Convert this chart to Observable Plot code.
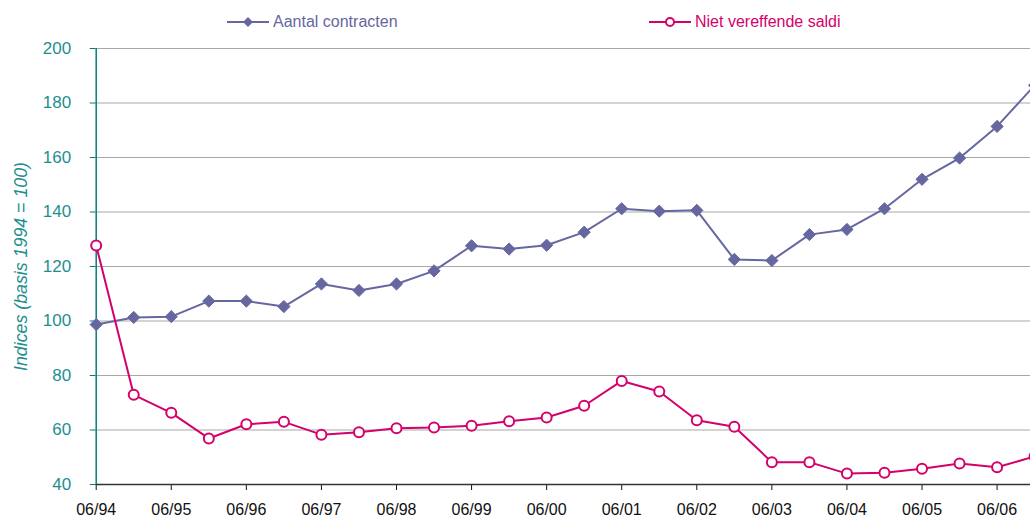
<!DOCTYPE html>
<html>
<head>
<meta charset="utf-8">
<script src="https://cdn.jsdelivr.net/npm/d3@7"></script>
<script src="https://cdn.jsdelivr.net/npm/@observablehq/plot@0.6"></script>
<style>
  html, body { margin: 0; padding: 0; background: #fff; overflow: hidden; }
  body { width: 1030px; height: 519px; font-family: "Liberation Sans", Arial, sans-serif; }
  #legend { position: relative; height: 40px; width: 1030px; }
  .leg { position: absolute; top: 11px; display: flex; align-items: center; font-size: 16px; }
  .leg svg { margin-right: 4px; }
</style>
</head>
<body>
<div id="legend"></div>
<div id="chart"></div>
<script>
const periods = ["06/94","12/94","06/95","12/95","06/96","12/96","06/97","12/97","06/98","12/98",
  "06/99","12/99","06/00","12/00","06/01","12/01","06/02","12/02","06/03","12/03",
  "06/04","12/04","06/05","12/05","06/06","12/06"];
const contracten = [98.7,101.3,101.6,107.3,107.3,105.3,113.6,111.2,113.6,118.4,
  127.6,126.4,127.8,132.6,141.2,140.3,140.6,122.6,122.2,131.7,
  133.6,141.2,152.0,159.8,171.4,186.5];
const saldi = [127.7,72.9,66.3,56.9,62.1,63.0,58.3,59.2,60.6,60.9,
  61.6,63.2,64.6,68.9,78.0,74.1,63.6,61.2,48.2,48.2,
  44.0,44.3,45.8,47.7,46.3,50.3];
const seriesNames = ["Aantal contracten", "Niet vereffende saldi"];
const yTicks = [40,60,80,100,120,140,160,180,200];

const BLUE = "#6667a0", PINK = "#d4006c", TEAL = "#1d8f8f", AXTEAL = "#0b7b7b";

const rows = [];
periods.forEach((p, i) => {
  rows.push({i, period: p, series: seriesNames[0], value: contracten[i]});
  rows.push({i, period: p, series: seriesNames[1], value: saldi[i]});
});
const blueRows = rows.filter(d => d.series === seriesNames[0]);
const pinkRows = rows.filter(d => d.series === seriesNames[1]);
const xTicks = periods.map((p, i) => i).filter(i => periods[i].startsWith("06/"));

const chart = Plot.plot({
  width: 1030,
  height: 479,
  marginLeft: 95.7,
  marginRight: 0,
  marginTop: 8,
  marginBottom: 35,
  style: {fontFamily: "Liberation Sans, Arial, sans-serif", background: "white", overflow: "hidden"},
  x: {domain: [0, 24.89], ticks: xTicks, tickFormat: i => periods[i], label: null},
  y: {domain: [40, 200], ticks: yTicks, label: null},
  marks: [
    Plot.ruleY(yTicks.filter(v => v > 40), {stroke: "#a8a8a8", strokeWidth: 1.2}),
    Plot.axisY({ticks: yTicks, tickSize: 6, tickPadding: 19, fontSize: 17, color: TEAL, stroke: AXTEAL, label: null}),
    Plot.axisX({ticks: xTicks, tickFormat: i => periods[i], tickSize: 6, tickPadding: 13, fontSize: 16, color: "#111", label: null}),
    Plot.ruleY([40], {stroke: "#333", strokeWidth: 1.5}),
    Plot.ruleX([0], {stroke: AXTEAL, strokeWidth: 1.5}),
    Plot.text(["Indices (basis 1994 = 100)"], {frameAnchor: "left", textAnchor: "middle", dx: -75, rotate: -90, fontSize: 17.8, fontStyle: "italic", fill: TEAL}),
    Plot.line(blueRows, {x: "i", y: "value", stroke: BLUE, strokeWidth: 2}),
    Plot.dot(blueRows, {x: "i", y: "value", symbol: "diamond2", r: 5.5, fill: BLUE, stroke: BLUE, strokeWidth: 1}),
    Plot.line(pinkRows, {x: "i", y: "value", stroke: PINK, strokeWidth: 2}),
    Plot.dot(pinkRows, {x: "i", y: "value", symbol: "circle", r: 5, fill: "white", stroke: PINK, strokeWidth: 2})
  ]
});
document.getElementById("chart").append(chart);

// legend
const legend = document.getElementById("legend");
const items = [
  {name: seriesNames[0], color: BLUE, left: 227, marker: "diamond"},
  {name: seriesNames[1], color: PINK, left: 649, marker: "circle"}
];
items.forEach(it => {
  const div = document.createElement("div");
  div.className = "leg";
  div.style.left = it.left + "px";
  div.style.color = it.color;
  const mk = it.marker === "diamond"
    ? `<path d="M21,6 L26,11 L21,16 L16,11 Z" fill="${it.color}"/>`
    : `<circle cx="21" cy="11" r="4" fill="white" stroke="${it.color}" stroke-width="2"/>`;
  div.innerHTML = `<svg width="42" height="22"><line x1="0" y1="11" x2="42" y2="11" stroke="${it.color}" stroke-width="2"/>${mk}</svg><span>${it.name}</span>`;
  legend.append(div);
});
</script>
</body>
</html>
